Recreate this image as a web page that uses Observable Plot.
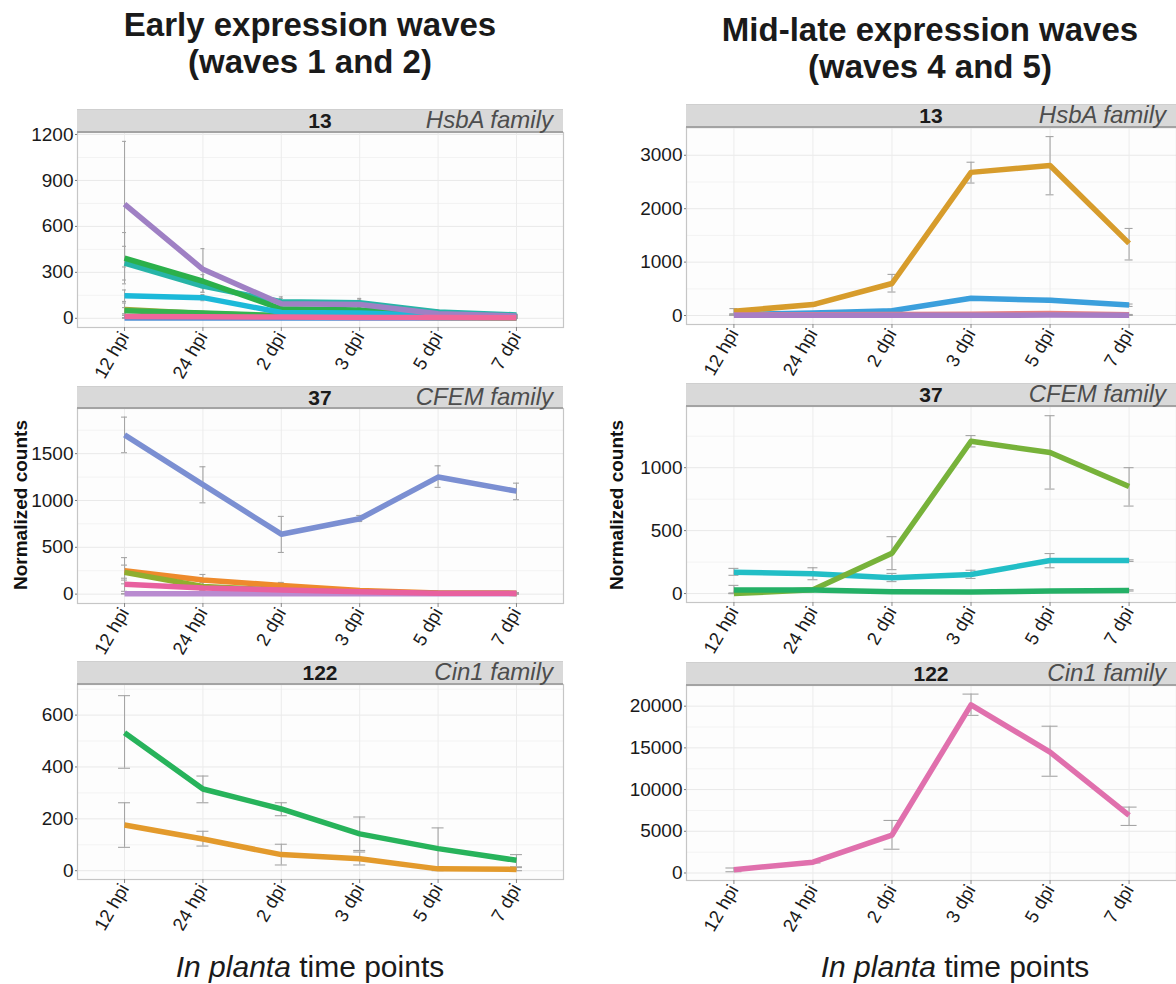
<!DOCTYPE html>
<html>
<head>
<meta charset="utf-8">
<script src="https://cdn.jsdelivr.net/npm/d3@7"></script>
<script src="https://cdn.jsdelivr.net/npm/@observablehq/plot@0.6"></script>
<style>
  html, body { margin: 0; padding: 0; background: #fff; width: 1176px; height: 984px; overflow: hidden; }
  body { position: relative; font-family: "Liberation Sans", Arial, sans-serif; color: #1a1a1a; }
  .title { position: absolute; text-align: center; font-weight: bold; font-size: 33px; line-height: 37px; color: #1a1a1a; }
  .strip { position: absolute; background: #d9d9d9; border-top: 1px solid #cfcfcf; border-bottom: 2px solid #a3a3a3; box-sizing: border-box; }
  .strip .num { position: absolute; top: 0; left: 0; width: 100%; text-align: center; font-weight: bold; font-size: 21px; line-height: 21px; color: #1a1a1a; }
  .strip .fam { position: absolute; top: -2px; right: 10px; font-style: italic; font-size: 24px; line-height: 24px; color: #4d4d4d; white-space: nowrap; }
  .ylab { position: absolute; font-weight: bold; font-size: 19px; white-space: nowrap; transform: translate(-50%, -50%) rotate(-90deg); color: #111; }
  .xlab { position: absolute; font-size: 30px; white-space: nowrap; transform: translate(-50%, -50%); color: #1a1a1a; }
  svg g[aria-label="y-axis tick label"] { font-size: 19px; }
  svg g[aria-label="x-axis tick label"] { font-size: 18.5px; }
</style>
</head>
<body>
<script>
// ---------------- DATA ----------------
const timePoints = ["12 hpi", "24 hpi", "2 dpi", "3 dpi", "5 dpi", "7 dpi"];

// Early waves, cluster 13 (HsbA family)
const earlyHsbAColors = ["#4d8fd6", "#9aaa3a", "#36b34f", "#27b4a7", "#2bb04a", "#1cb9d9", "#9f80c4", "#f0679a"];
const earlyHsbAMean = [
  [2, 2, 2, 2, 2, 2],
  [58, 32, 14, 10, 6, 4],
  [50, 35, 18, 14, 8, 5],
  [360, 210, 108, 102, 42, 22],
  [393, 242, 62, 55, 25, 12],
  [148, 135, 38, 35, 18, 10],
  [745, 320, 95, 90, 30, 15],
  [12, 10, 8, 6, 5, 4]
];
const earlyHsbALow = [
  [0, 0, 0, 0, 0, 0],
  [20, 20, 5, 5, 2, 2],
  [30, 25, 10, 8, 4, 2],
  [250, 170, 80, 75, 30, 18],
  [225, 200, 45, 40, 15, 8],
  [110, 115, 25, 25, 12, 6],
  [335, 170, 60, 60, 18, 10],
  [5, 5, 4, 3, 2, 2]
];
const earlyHsbAHigh = [
  [5, 5, 5, 5, 5, 5],
  [100, 45, 25, 18, 10, 6],
  [70, 45, 25, 20, 12, 8],
  [470, 250, 140, 130, 55, 26],
  [560, 285, 80, 70, 35, 16],
  [185, 155, 50, 45, 24, 14],
  [1155, 455, 130, 125, 42, 20],
  [20, 15, 12, 9, 8, 6]
];

// Early waves, cluster 37 (CFEM family)
const earlyCFEMColors = ["#7b8fd2", "#ee8a2c", "#8fae2f", "#b98bd0", "#e8609f"];
const earlyCFEMMean = [
  [1700, 1170, 640, 805, 1250, 1100],
  [250, 150, 92, 40, 12, 8],
  [232, 82, 40, 20, 10, 8],
  [3, 3, 3, 3, 3, 3],
  [105, 65, 45, 25, 10, 10]
];
const earlyCFEMLow = [
  [1510, 975, 445, 775, 1140, 1008],
  [110, 90, 60, 25, 5, 3],
  [150, 40, 20, 10, 5, 3],
  [1, 1, 1, 1, 1, 1],
  [30, 35, 25, 15, 5, 5]
];
const earlyCFEMHigh = [
  [1890, 1360, 830, 840, 1370, 1185],
  [390, 210, 125, 55, 20, 14],
  [310, 125, 60, 30, 15, 12],
  [6, 6, 6, 6, 6, 6],
  [170, 95, 65, 35, 15, 15]
];

// Early waves, cluster 122 (Cin1 family)
const earlyCin1Colors = ["#27b35b", "#e39a2c"];
const earlyCin1Mean = [
  [532, 315, 238, 142, 85, 40],
  [176, 122, 62, 46, 7, 5]
];
const earlyCin1Low = [
  [395, 262, 212, 78, 5, 15],
  [90, 95, 22, 22, 0, 0]
];
const earlyCin1High = [
  [675, 365, 262, 207, 165, 62],
  [262, 152, 102, 72, 14, 12]
];

// Mid-late waves, cluster 13 (HsbA family)
const lateHsbAColors = ["#3b9fdc", "#d79c2c", "#e8807f", "#a77dc4"];
const lateHsbAMean = [
  [20, 45, 90, 325, 285, 195],
  [80, 205, 600, 2680, 2810, 1350],
  [10, 15, 20, 25, 40, 15],
  [5, 5, 5, 5, 8, 5]
];
const lateHsbALow = [
  [10, 35, 60, 300, 250, 170],
  [30, 180, 440, 2480, 2260, 1040],
  [5, 10, 12, 18, 30, 10],
  [2, 2, 2, 2, 4, 2]
];
const lateHsbAHigh = [
  [30, 55, 120, 350, 320, 215],
  [130, 230, 770, 2870, 3350, 1630],
  [15, 20, 28, 32, 50, 20],
  [8, 8, 8, 8, 12, 8]
];

// Mid-late waves, cluster 37 (CFEM family)
const lateCFEMColors = ["#22bec6", "#77b23a", "#24b066"];
const lateCFEMMean = [
  [170, 158, 125, 152, 262, 262],
  [0, 30, 320, 1210, 1120, 850],
  [28, 28, 15, 12, 20, 25]
];
const lateCFEMLow = [
  [145, 110, 95, 120, 205, 255],
  [0, 20, 190, 1165, 830, 695],
  [0, 20, 10, 8, 15, 20]
];
const lateCFEMHigh = [
  [200, 205, 160, 185, 318, 268],
  [5, 40, 452, 1255, 1413, 1000],
  [65, 36, 20, 16, 25, 30]
];

// Mid-late waves, cluster 122 (Cin1 family)
const lateCin1Colors = ["#e070ad"];
const lateCin1Mean = [[400, 1300, 4550, 20150, 14500, 6900]];
const lateCin1Low = [[150, 1200, 2850, 18900, 11600, 5700]];
const lateCin1High = [[600, 1400, 6300, 21450, 17600, 7900]];

// Axis ticks
const earlyHsbATicks = [0, 300, 600, 900, 1200];
const earlyCFEMTicks = [0, 500, 1000, 1500];
const earlyCin1Ticks = [0, 200, 400, 600];
const lateHsbATicks = [0, 1000, 2000, 3000];
const lateCFEMTicks = [0, 500, 1000];
const lateCin1Ticks = [0, 5000, 10000, 15000, 20000];

const clusterIds = ["13", "37", "122"];
const familyNames = ["HsbA family", "CFEM family", "Cin1 family"];

// ---------------- LAYOUT ----------------
const FONT = "'Liberation Sans', Arial, sans-serif";
const timeIndex = timePoints.map((t, i) => i);

function addDiv(cls, html, style) {
  const d = document.createElement("div");
  d.className = cls;
  d.innerHTML = html;
  Object.assign(d.style, style);
  document.body.appendChild(d);
  return d;
}

function panel(cfg) {
  const rows = [];
  cfg.mean.forEach((arr, s) => arr.forEach((v, i) => rows.push({
    series: s, xi: i, mean: v, lo: cfg.low[s][i], hi: cfg.high[s][i]
  })));
  const step = cfg.ticks[1] - cfg.ticks[0];
  const minor = [];
  for (let v = cfg.ticks[0] - step / 2; v <= cfg.domain[1]; v += step) if (v >= cfg.domain[0]) minor.push(v);
  const plotH = cfg.bottom - cfg.top;
  const mb = 80;
  const pw = cfg.width - cfg.marginLeft - cfg.marginRight;
  const capU = cfg.cap / (pw / 6.2);
  const chart = Plot.plot({
    width: cfg.width,
    height: plotH + mb,
    marginTop: 0,
    marginBottom: mb,
    marginLeft: cfg.marginLeft,
    marginRight: cfg.marginRight,
    x: { domain: [-0.6, timePoints.length - 0.4], label: null },
    y: { domain: cfg.domain, label: null },
    color: { type: "ordinal", domain: cfg.colors.map((c, i) => i), range: cfg.colors },
    style: { fontFamily: FONT, background: "transparent", overflow: "visible", color: "#1a1a1a" },
    marks: [
      Plot.frame({ fill: "#fdfdfd", stroke: null }),
      Plot.ruleY(minor, { stroke: "#f3f3f3", strokeWidth: 1 }),
      Plot.ruleY(cfg.ticks, { stroke: "#e9e9e9", strokeWidth: 1 }),
      Plot.ruleX(timeIndex, { stroke: "#ececec", strokeWidth: 1 }),
      Plot.ruleX(rows, { x: "xi", y1: "lo", y2: "hi", stroke: "#a5a5a5", strokeWidth: 1.1 }),
      Plot.ruleY(rows, { y: "lo", x1: d => d.xi - capU, x2: d => d.xi + capU, stroke: "#a5a5a5", strokeWidth: 1.1 }),
      Plot.ruleY(rows, { y: "hi", x1: d => d.xi - capU, x2: d => d.xi + capU, stroke: "#a5a5a5", strokeWidth: 1.1 }),
      Plot.line(rows, { x: "xi", y: "mean", z: "series", stroke: "series", strokeWidth: 5.5, strokeLinejoin: "round", strokeLinecap: "butt" }),
      Plot.frame({ stroke: "#c6c6c6", strokeWidth: 1.2 }),
      Plot.axisY({ ticks: cfg.ticks, tickSize: 2, tickPadding: 2, fontSize: 19, stroke: "#777", tickFormat: d => String(d) }),
      Plot.axisX({ ticks: timeIndex, tickFormat: i => timePoints[i], tickRotate: -60, fontSize: 18.5, tickSize: 4, tickPadding: 2, stroke: "#888" })
    ]
  });
  chart.style.position = "absolute";
  chart.style.left = cfg.left + "px";
  chart.style.top = cfg.top + "px";
  document.body.appendChild(chart);

  const pl = cfg.left + cfg.marginLeft;
  addDiv("strip", `<span class="num">${cfg.id}</span><span class="fam">${cfg.family}</span>`, {
    left: pl + "px", top: cfg.stripTop + "px", width: pw + "px", height: (cfg.top - cfg.stripTop + 1) + "px"
  });
}

// titles
addDiv("title", "Early expression waves<br>(waves 1 and 2)", { left: "90px", width: "440px", top: "6px" });
addDiv("title", "Mid-late expression waves<br>(waves 4 and 5)", { left: "705px", width: "450px", top: "11px" });

const leftCol = { left: 0, width: 565, marginLeft: 77, marginRight: 2 };
const rightCol = { left: 600, width: 576, marginLeft: 86, marginRight: 0 };

panel({ ...leftCol, stripTop: 109, top: 132, bottom: 327, domain: [-60, 1213], ticks: earlyHsbATicks, cap: 2,
  mean: earlyHsbAMean, low: earlyHsbALow, high: earlyHsbAHigh, colors: earlyHsbAColors, id: clusterIds[0], family: familyNames[0] });
panel({ ...leftCol, stripTop: 386, top: 408, bottom: 603, domain: [-100, 1982], ticks: earlyCFEMTicks, cap: 3,
  mean: earlyCFEMMean, low: earlyCFEMLow, high: earlyCFEMHigh, colors: earlyCFEMColors, id: clusterIds[1], family: familyNames[1] });
panel({ ...leftCol, stripTop: 661, top: 684, bottom: 879, domain: [-34, 718], ticks: earlyCin1Ticks, cap: 6,
  mean: earlyCin1Mean, low: earlyCin1Low, high: earlyCin1High, colors: earlyCin1Colors, id: clusterIds[2], family: familyNames[2] });

panel({ ...rightCol, stripTop: 104, top: 127, bottom: 324, domain: [-168, 3520], ticks: lateHsbATicks, cap: 4,
  mean: lateHsbAMean, low: lateHsbALow, high: lateHsbAHigh, colors: lateHsbAColors, id: clusterIds[0], family: familyNames[0] });
panel({ ...rightCol, stripTop: 383, top: 406, bottom: 602, domain: [-71, 1486], ticks: lateCFEMTicks, cap: 5,
  mean: lateCFEMMean, low: lateCFEMLow, high: lateCFEMHigh, colors: lateCFEMColors, id: clusterIds[1], family: familyNames[1] });
panel({ ...rightCol, stripTop: 662, top: 685, bottom: 880, domain: [-900, 22480], ticks: lateCin1Ticks, cap: 8,
  mean: lateCin1Mean, low: lateCin1Low, high: lateCin1High, colors: lateCin1Colors, id: clusterIds[2], family: familyNames[2] });

// axis titles
addDiv("ylab", "Normalized counts", { left: "21px", top: "505px" });
addDiv("ylab", "Normalized counts", { left: "617px", top: "505px" });
addDiv("xlab", "<i>In planta</i> time points", { left: "310px", top: "967px" });
addDiv("xlab", "<i>In planta</i> time points", { left: "955px", top: "967px" });
</script>
</body>
</html>
